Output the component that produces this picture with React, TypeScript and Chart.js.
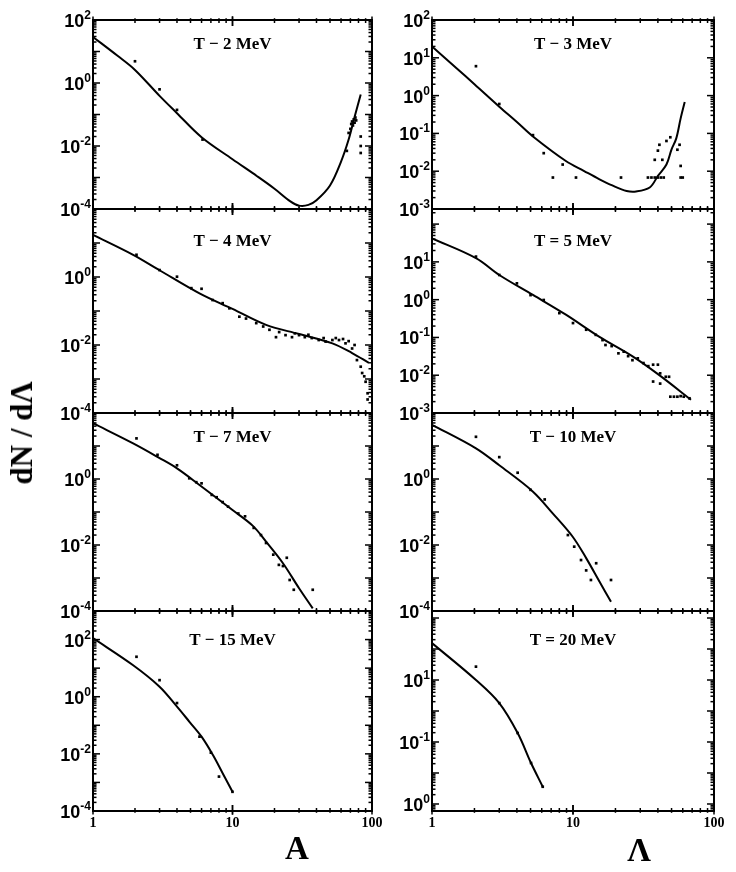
import { useEffect, useRef } from "react"
import { Chart, registerables } from "chart.js"

Chart.register(...registerables)

// T = 2 MeV
const t2CurveA = [1, 1.5, 2, 3, 4, 6, 10, 15, 20, 26, 30, 35, 40, 50, 60, 68, 75, 83]
const t2CurveN = [29, 7.3, 2.6, 0.39, 0.11, 0.019, 0.0038, 0.0011, 0.00044, 0.000175, 0.000128, 0.000135, 0.00019, 0.00056, 0.0032, 0.016, 0.083, 0.43]
const t2PointA = [2, 3, 4, 6.1, 66, 68, 70, 71, 72, 73, 74, 75, 76, 77, 83, 83, 83]
const t2PointN = [4.9, 0.63, 0.14, 0.016, 0.007, 0.026, 0.035, 0.05, 0.06, 0.045, 0.07, 0.055, 0.08, 0.065, 0.02, 0.01, 0.006]

// T = 3 MeV
const t3CurveA = [1, 1.5, 2, 3, 4, 5.2, 8.9, 12, 15.3, 19, 24, 28, 35, 40, 46, 50, 54, 58, 62]
const t3CurveN = [20, 5.2, 2.0, 0.51, 0.2, 0.083, 0.0186, 0.0101, 0.0062, 0.0042, 0.003, 0.0029, 0.0037, 0.0075, 0.015, 0.038, 0.074, 0.25, 0.68]
const t3PointA = [2.05, 3, 5.2, 6.2, 7.2, 8.45, 10.5, 21.9, 34, 36, 38, 40, 42, 44, 38, 40, 41, 43, 46, 49, 55, 58, 58, 60, 57]
const t3PointN = [6, 0.6, 0.09, 0.03, 0.0068, 0.015, 0.0068, 0.0068, 0.0068, 0.0068, 0.0068, 0.0068, 0.0068, 0.0068, 0.02, 0.035, 0.05, 0.02, 0.063, 0.079, 0.037, 0.0138, 0.0068, 0.0068, 0.05]

// T = 4 MeV
const t4CurveA = [1, 1.94, 3, 5.8, 10, 17.4, 30, 52, 72, 95]
const t4CurveN = [17.4, 4.5, 1.58, 0.33, 0.115, 0.039, 0.021, 0.0112, 0.0058, 0.003]
const t4PointA = [2.05, 3, 4, 5.07, 6, 7.2, 8.5, 9.5, 11.2, 12.5, 14.8, 16.6, 18.4, 20.5, 21.6, 24, 26.7, 28, 30, 33, 35, 37, 41.5, 45, 46.5, 52, 55, 58, 62, 64.6, 68, 72, 75, 78, 83, 85, 88, 90, 93, 93]
const t4PointN = [4.5, 1.6, 1.02, 0.47, 0.45, 0.21, 0.17, 0.12, 0.068, 0.06, 0.044, 0.035, 0.028, 0.017, 0.024, 0.0195, 0.017, 0.022, 0.0195, 0.017, 0.02, 0.016, 0.014, 0.016, 0.0126, 0.014, 0.016, 0.014, 0.015, 0.0112, 0.013, 0.0079, 0.01, 0.0036, 0.0023, 0.0015, 0.0012, 0.00083, 0.00038, 0.00025]

// T = 5 MeV
const t5CurveA = [1, 2.05, 3, 5.2, 8.9, 15.3, 26.3, 40.7, 68.7]
const t5CurveN = [42, 12.6, 4.5, 1.33, 0.4, 0.105, 0.032, 0.0102, 0.00224]
const t5PointA = [2.05, 3, 4, 5, 6.2, 8, 10, 12.4, 14.5, 16.2, 17, 18.8, 21, 22.9, 24.6, 26.4, 28.8, 31.6, 34.2, 37, 40, 41.5, 45.5, 48, 37, 41.5, 49, 52, 55, 58, 61, 67]
const t5PointN = [13.8, 4.5, 2.7, 1.32, 0.98, 0.44, 0.24, 0.16, 0.117, 0.085, 0.063, 0.059, 0.038, 0.042, 0.032, 0.025, 0.028, 0.021, 0.0174, 0.019, 0.019, 0.0112, 0.0091, 0.0091, 0.0068, 0.006, 0.0027, 0.0027, 0.0027, 0.0028, 0.0027, 0.00245]

// T = 7 MeV
const t7CurveA = [1, 1.94, 3, 4, 5.8, 10, 14, 17.4, 23, 30, 37.6]
const t7CurveN = [49, 12, 4.3, 2.1, 0.66, 0.115, 0.038, 0.0126, 0.0028, 0.00049, 0.00012]
const t7PointA = [2.05, 2.9, 4, 4.9, 5.5, 6, 7.1, 7.7, 8.5, 9.3, 11, 12.3, 14.2, 16, 17.4, 19.6, 21.5, 23, 24.5, 25.7, 27.5, 37.6]
const t7PointN = [17, 5.4, 2.6, 1.05, 0.8, 0.74, 0.33, 0.28, 0.2, 0.145, 0.09, 0.074, 0.033, 0.02, 0.0115, 0.0051, 0.0025, 0.0023, 0.0041, 0.00087, 0.00044, 0.00044]

// T = 10 MeV
const t10CurveA = [1, 2.05, 3, 5.18, 7.18, 9.95, 12.4, 15.4, 18.6]
const t10CurveN = [44, 8.5, 2.6, 0.42, 0.091, 0.0178, 0.004, 0.00078, 0.00019]
const t10PointA = [2.05, 3, 4.05, 5, 6.3, 9.2, 10.2, 11.4, 12.4, 13.4, 14.6, 18.6]
const t10PointN = [19, 4.6, 1.55, 0.47, 0.24, 0.02, 0.0089, 0.0035, 0.0017, 0.00087, 0.0028, 0.00087]

// T = 15 MeV
const t15CurveA = [1, 1.94, 3, 4, 4.93, 6, 7.24, 8.5, 10]
const t15CurveN = [112, 12.6, 2.24, 0.45, 0.13, 0.04, 0.0091, 0.0021, 0.00047]
const t15PointA = [2.05, 3, 4, 5.8, 7, 8, 10]
const t15PointN = [25, 3.8, 0.6, 0.04, 0.011, 0.0016, 0.00047]

// T = 20 MeV
const t20CurveA = [1, 2.05, 3, 4.05, 5.04, 6.1]
const t20CurveN = [155, 10, 1.8, 0.195, 0.021, 0.0036]
const t20PointA = [2.05, 3, 4.05, 5.04, 6.1]
const t20PointN = [27, 1.8, 0.195, 0.021, 0.0036]

// y tick values and the exponents printed beside them
const ticksA = [100, 1, 0.01, 0.0001]
const expsA = ["2", "0", "-2", "-4"]
const ticksB = [1, 0.01, 0.0001]
const expsB = ["0", "-2", "-4"]
const ticks3 = [100, 10, 1, 0.1, 0.01, 0.001]
const exps3 = ["2", "1", "0", "-1", "-2", "-3"]
const ticks5 = [10, 1, 0.1, 0.01, 0.001]
const exps5 = ["1", "0", "-1", "-2", "-3"]
const ticks20 = [10, 0.1, 0.001]
const exps20 = ["1", "-1", "0"]

const xLabels = [1, 10, 100]

const rows = [
  [20, 209],
  [209, 413],
  [413, 611],
  [611, 811],
]
const titleDy = [25, 33, 25, 30]

interface PanelCfg {
  title: string
  col: number
  row: number
  curveA: number[]
  curveN: number[]
  pointA: number[]
  pointN: number[]
  yMin: number
  yMax: number
  ticks: number[]
  exps: string[]
}

const panels: PanelCfg[] = [
  { title: "T − 2 MeV", col: 0, row: 0, curveA: t2CurveA, curveN: t2CurveN, pointA: t2PointA, pointN: t2PointN, yMin: 1e-4, yMax: 1e2, ticks: ticksA, exps: expsA },
  { title: "T − 3 MeV", col: 1, row: 0, curveA: t3CurveA, curveN: t3CurveN, pointA: t3PointA, pointN: t3PointN, yMin: 1e-3, yMax: 1e2, ticks: ticks3, exps: exps3 },
  { title: "T − 4 MeV", col: 0, row: 1, curveA: t4CurveA, curveN: t4CurveN, pointA: t4PointA, pointN: t4PointN, yMin: 1e-4, yMax: 1e2, ticks: ticksB, exps: expsB },
  { title: "T = 5 MeV", col: 1, row: 1, curveA: t5CurveA, curveN: t5CurveN, pointA: t5PointA, pointN: t5PointN, yMin: 1e-3, yMax: 251, ticks: ticks5, exps: exps5 },
  { title: "T − 7 MeV", col: 0, row: 2, curveA: t7CurveA, curveN: t7CurveN, pointA: t7PointA, pointN: t7PointN, yMin: 1e-4, yMax: 1e2, ticks: ticksB, exps: expsB },
  { title: "T − 10 MeV", col: 1, row: 2, curveA: t10CurveA, curveN: t10CurveN, pointA: t10PointA, pointN: t10PointN, yMin: 1e-4, yMax: 1e2, ticks: ticksB, exps: expsB },
  { title: "T − 15 MeV", col: 0, row: 3, curveA: t15CurveA, curveN: t15CurveN, pointA: t15PointA, pointN: t15PointN, yMin: 1e-4, yMax: 1e3, ticks: ticksA, exps: expsA },
  { title: "T = 20 MeV", col: 1, row: 3, curveA: t20CurveA, curveN: t20CurveN, pointA: t20PointA, pointN: t20PointN, yMin: 5.94e-4, yMax: 1683, ticks: ticks20, exps: exps20 },
]

// canvas boxes per column: canvas left, width, padding left/right
const cols = [
  { left: 0, width: 400, padL: 93, padR: 28 },
  { left: 376, width: 360, padL: 56, padR: 22 },
]

const SANS = '"Liberation Sans", Arial, sans-serif'
const SERIF = '"Liberation Serif", "Times New Roman", serif'

const framePlugin = {
  id: "frame",
  afterDraw(chart: any, _args: any, opts: any) {
    const { ctx, chartArea: a } = chart
    const xs = chart.scales.x
    const ys = chart.scales.y
    const seg = (x1: number, y1: number, x2: number, y2: number) => {
      ctx.beginPath()
      ctx.moveTo(x1, y1)
      ctx.lineTo(x2, y2)
      ctx.stroke()
    }
    ctx.save()
    ctx.strokeStyle = "#000"
    ctx.fillStyle = "#000"

    // x ticks, top and bottom
    ctx.lineWidth = 1.5
    for (let d = 1; d < 100; d *= 10) {
      for (let m = 1; m <= 10; m++) {
        const px = xs.getPixelForValue(d * m)
        const len = m === 1 || m === 10 ? 6 : 3
        seg(px, a.bottom - len, px, a.bottom + len * 0.6)
        seg(px, a.top - len * 0.6, px, a.top + len)
      }
    }

    // y ticks, left and right
    const lo = Math.floor(Math.log10(ys.min) - 1e-9)
    const hi = Math.ceil(Math.log10(ys.max))
    for (let e = lo; e <= hi; e++) {
      for (let m = 1; m < 10; m++) {
        const v = m * Math.pow(10, e)
        if (v < ys.min * 0.999 || v > ys.max * 1.001) continue
        const py = ys.getPixelForValue(v)
        const len = m === 1 ? 7 : 3.5
        seg(a.left - 1, py, a.left + len, py)
        seg(a.right - len, py, a.right + 1, py)
      }
    }

    ctx.lineWidth = 2
    ctx.strokeRect(a.left, a.top, a.right - a.left, a.bottom - a.top)

    // y tick labels: 10 with superscript exponent
    ctx.textAlign = "left"
    ctx.textBaseline = "alphabetic"
    opts.ticks.forEach((v: number, i: number) => {
      const py = ys.getPixelForValue(v)
      const exp = opts.exps[i]
      ctx.font = `bold 12px ${SANS}`
      const ew = ctx.measureText(exp).width
      ctx.font = `bold 18px ${SANS}`
      const bw = ctx.measureText("10").width
      const right = a.left - 2
      ctx.fillText("10", right - ew - bw, py + 7)
      ctx.font = `bold 12px ${SANS}`
      ctx.fillText(exp, right - ew, py - 1)
    })

    // panel title
    ctx.font = `bold 17px ${SERIF}`
    ctx.textAlign = "center"
    ctx.textBaseline = "middle"
    ctx.fillText(opts.title, xs.getPixelForValue(10), a.top + opts.titleDy)

    // x tick labels on the bottom row
    if (opts.xLabels) {
      ctx.font = `bold 14px ${SERIF}`
      xLabels.forEach((v) => {
        ctx.fillText(String(v), xs.getPixelForValue(v), a.bottom + 12)
      })
    }
    ctx.restore()
  },
}

function Panel({ p }: { p: PanelCfg }) {
  const ref = useRef<HTMLCanvasElement | null>(null)
  const c = cols[p.col]
  const [top, bottom] = rows[p.row]
  const last = p.row === rows.length - 1
  const padT = 14
  const padB = last ? 30 : 14
  const height = bottom - top + padT + padB

  useEffect(() => {
    if (!ref.current) return
    const chart = new Chart(ref.current, {
      type: "scatter",
      data: {
        datasets: [
          {
            data: p.curveA.map((x, i) => ({ x, y: p.curveN[i] })),
            showLine: true,
            borderColor: "#000",
            borderWidth: 2,
            pointRadius: 0,
            tension: 0.35,
          },
          {
            data: p.pointA.map((x, i) => ({ x, y: p.pointN[i] })),
            showLine: false,
            pointStyle: "rect",
            pointRadius: 1.9,
            backgroundColor: "#000",
            borderColor: "#000",
            borderWidth: 0,
          },
        ],
      },
      options: {
        responsive: false,
        animation: false,
        events: [],
        layout: { padding: { left: c.padL, right: c.padR, top: padT, bottom: padB } },
        scales: {
          x: { type: "logarithmic", min: 1, max: 100, display: false },
          y: { type: "logarithmic", min: p.yMin, max: p.yMax, display: false },
        },
        plugins: {
          legend: { display: false },
          tooltip: { enabled: false },
          frame: {
            title: p.title,
            titleDy: titleDy[p.row],
            ticks: p.ticks,
            exps: p.exps,
            xLabels: last,
          },
        } as any,
      },
      plugins: [framePlugin],
    })
    return () => chart.destroy()
  }, [p])

  return (
    <canvas
      ref={ref}
      width={c.width}
      height={height}
      style={{ position: "absolute", left: c.left, top: top - padT, width: c.width, height }}
    />
  )
}

export default function App() {
  return (
    <div style={{ position: "absolute", left: 0, top: 0, width: 736, height: 872, background: "#fff", overflow: "hidden" }}>
      {panels.map((p) => (
        <Panel key={p.title} p={p} />
      ))}
      <div
        style={{
          position: "absolute",
          left: 22,
          top: 433,
          transform: "translate(-50%, -50%) rotate(-90deg)",
          font: `bold 31px ${SERIF}`,
          whiteSpace: "nowrap",
        }}
      >
        dN / dΛ
      </div>
      <div style={{ position: "absolute", left: 297, top: 848, transform: "translate(-50%, -50%)", font: `bold 33px ${SERIF}` }}>A</div>
      <div style={{ position: "absolute", left: 639, top: 850, transform: "translate(-50%, -50%)", font: `bold 33px ${SERIF}` }}>Λ</div>
    </div>
  )
}
